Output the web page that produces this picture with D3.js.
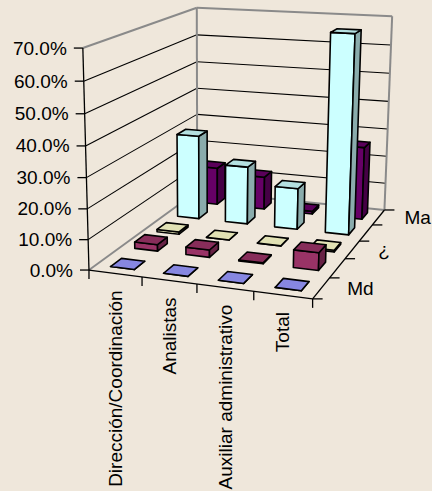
<!DOCTYPE html>
<html>
<head>
<meta charset="utf-8">
<script src="https://cdn.jsdelivr.net/npm/d3@7"></script>
<style>
  html, body { margin: 0; padding: 0; background: #EFE7DB; }
  svg { display: block; }
</style>
</head>
<body>
<svg id="chart" width="432" height="491"></svg>
<script>
// ---- data ----
const categories = ["Dirección/Coordinación", "Analistas", "Auxiliar administrativo", "Total"];
const seriesNames = ["Md", "D", "¿", "A", "Ma"];
const valuesMd = [0, 0, 0, 0];
const valuesD  = [2.2, 2.5, 0.3, 5.8];
const valuesQ  = [0.8, 0, 0, 0.6];
const valuesA  = [30, 20.5, 14.5, 68.5];
const valuesMa = [13.7, 12, 1, 26];
const seriesValues = [valuesMd, valuesD, valuesQ, valuesA, valuesMa];
const valueTicks = [0, 10, 20, 30, 40, 50, 60, 70];
const seriesColors = ["#9999FF", "#993366", "#FFFFCC", "#CCFFFF", "#660066"];

// ---- layout: screen anchors of the plot box (u = category, d = depth, h = height) ----
const frameAnchors = [
  [0, 0, 0, 89, 269], [0, 0, 1, 82, 48], [0, 1, 1, 197, 7], [0, 1, 0, 197, 193],
  [1, 1, 1, 392, 17], [1, 1, 0, 385, 208], [1, 0, 0, 313, 300],
  [0.25, 0, 0, 142, 276.3], [0.5, 0, 0, 197, 283.9], [0.75, 0, 0, 253, 291.6],
  [1, 0.2, 0, 330, 278], [1, 0.4, 0, 345, 259], [1, 0.6, 0, 359, 241], [1, 0.8, 0, 372, 225],
  [0, 0, 6 / 7, 84, 81], [0, 0, 5 / 7, 85, 114], [0, 0, 4 / 7, 86, 146]
];

// Fit a perspective camera (3x4 projective matrix) to the box anchors.
function fitCamera(anchors) {
  const rows = [], rhs = [];
  anchors.forEach(([u, d, h, x, y]) => {
    rows.push([u, d, h, 1, 0, 0, 0, 0, -x * u, -x * d, -x * h]); rhs.push(x);
    rows.push([0, 0, 0, 0, u, d, h, 1, -y * u, -y * d, -y * h]); rhs.push(y);
  });
  const n = 11;
  const N = Array.from({ length: n }, () => new Array(n + 1).fill(0));
  rows.forEach((r, k) => {
    for (let i = 0; i < n; i++) {
      for (let j = 0; j < n; j++) N[i][j] += r[i] * r[j];
      N[i][n] += r[i] * rhs[k];
    }
  });
  for (let c = 0; c < n; c++) {
    let p = c;
    for (let r = c + 1; r < n; r++) if (Math.abs(N[r][c]) > Math.abs(N[p][c])) p = r;
    [N[c], N[p]] = [N[p], N[c]];
    for (let r = 0; r < n; r++) {
      if (r === c) continue;
      const f = N[r][c] / N[c][c];
      for (let k = c; k <= n; k++) N[r][k] -= f * N[c][k];
    }
  }
  return N.map((row, i) => row[n] / row[i]);
}
const M = fitCamera(frameAnchors);
function P(u, d, h) {
  const w = M[8] * u + M[9] * d + M[10] * h + 1;
  return [(M[0] * u + M[1] * d + M[2] * h + M[3]) / w,
          (M[4] * u + M[5] * d + M[6] * h + M[7]) / w];
}

// ---- scales ----
const catCell = d3.scaleBand().domain(categories).range([0, 1]);
const serCell = d3.scaleBand().domain(seriesNames).range([0, 1]);
const uScale = d3.scaleBand().domain(categories).range([0, 1]).paddingInner(0.55).paddingOuter(0.275);
const dScale = d3.scaleBand().domain(seriesNames).range([0, 1]).paddingInner(0.56).paddingOuter(0.28);
const hScale = d3.scaleLinear().domain([0, 70]).range([0, 1]);

const svg = d3.select("#chart");
const FONT = "'Liberation Sans', Arial, sans-serif";
const line = d3.line();
const shade = (c, k) => d3.color(c).darker(k).formatHex();

function seg(g, a, b, stroke, width) {
  g.append("path").attr("d", line([a, b])).attr("stroke", stroke)
    .attr("stroke-width", width).attr("fill", "none");
}

// ---- walls and gridlines ----
const walls = svg.append("g");
valueTicks.slice(1).forEach(v => {
  const h = hScale(v);
  const top = v === 70;
  const col = top ? "#8A8A8A" : "#000";
  const w = top ? 2 : 1.1;
  seg(walls, P(0, 0, h), P(0, 1, h), col, w);
  seg(walls, P(0, 1, h), P(1, 1, h), col, w);
});
seg(walls, P(0, 0, 0), P(0, 1, 0), "#8A8A8A", 2);
seg(walls, P(0, 1, 0), P(1, 1, 0), "#8A8A8A", 2);
seg(walls, P(0, 1, 0), P(0, 1, 1), "#8A8A8A", 2);
seg(walls, P(1, 1, 0), P(1, 1, 1), "#8A8A8A", 2);

// ---- axes ----
const axes = svg.append("g");
seg(axes, P(0, 0, 0), P(0, 0, 1), "#000", 1.3);
seg(axes, P(0, 0, 0), P(1, 0, 0), "#000", 1.3);
seg(axes, P(1, 0, 0), P(1, 1, 0), "#000", 1.3);

valueTicks.forEach(v => {
  const [x, y] = P(0, 0, hScale(v));
  seg(axes, [x - 9, y], [x, y], "#000", 1.3);
  axes.append("text").attr("x", x - 16).attr("y", y)
    .attr("text-anchor", "end").attr("dominant-baseline", "central")
    .attr("font-family", FONT).attr("font-size", 19).attr("fill", "#000")
    .text(d3.format(".1f")(v) + "%");
});

const catEdges = categories.map(c => catCell(c)).concat([1]);
catEdges.forEach(u => {
  const [x, y] = P(u, 0, 0);
  seg(axes, [x, y], [x, y + 9], "#000", 1.3);
});
categories.forEach(c => {
  const [x, y] = P(catCell(c) + catCell.bandwidth() / 2, 0, 0);
  axes.append("text")
    .attr("transform", `translate(${x},${y + 17}) rotate(-90)`)
    .attr("text-anchor", "end").attr("dominant-baseline", "central")
    .attr("font-family", FONT).attr("font-size", 19).attr("fill", "#000")
    .text(c);
});

const serEdges = seriesNames.map(s => serCell(s)).concat([1]);
serEdges.forEach(d => {
  const [x, y] = P(1, d, 0);
  seg(axes, [x, y], [x + 10, y], "#000", 1.3);
});
seriesNames.forEach((s, i) => {
  if (i % 2 !== 0) return;
  const [x, y] = P(1, serCell(s) + serCell.bandwidth() / 2, 0);
  axes.append("text").attr("x", x + 26).attr("y", y)
    .attr("text-anchor", "start").attr("dominant-baseline", "central")
    .attr("font-family", FONT).attr("font-size", 19).attr("fill", "#000")
    .text(s);
});

// ---- columns, painted back to front ----
const bars = svg.append("g");
for (let si = seriesNames.length - 1; si >= 0; si--) {
  const s = seriesNames[si];
  const base = seriesColors[si];
  categories.forEach((c, ci) => {
    const u0 = uScale(c), u1 = u0 + uScale.bandwidth();
    const d0 = dScale(s), d1 = d0 + dScale.bandwidth();
    const h = hScale(seriesValues[si][ci]);
    const faces = [
      { pts: [P(u0, d0, 0), P(u1, d0, 0), P(u1, d0, h), P(u0, d0, h)], fill: base },
      { pts: [P(u1, d0, 0), P(u1, d1, 0), P(u1, d1, h), P(u1, d0, h)], fill: shade(base, 1.1) },
      { pts: [P(u0, d0, h), P(u1, d0, h), P(u1, d1, h), P(u0, d1, h)], fill: shade(base, 0.35) }
    ];
    faces.forEach(f => {
      bars.append("path").attr("d", line(f.pts) + "Z")
        .attr("fill", f.fill).attr("stroke", "#000")
        .attr("stroke-width", 1.6).attr("stroke-linejoin", "round");
    });
  });
}
</script>
</body>
</html>
